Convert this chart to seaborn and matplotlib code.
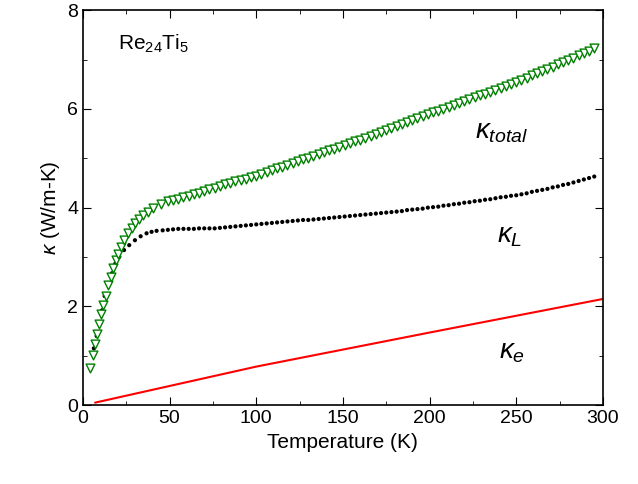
import matplotlib
matplotlib.use("Agg")
import matplotlib.pyplot as plt
import seaborn as sns
import pandas as pd

# total thermal conductivity (W/m-K), low-T part read point by point
t_tot_low = [4.0, 5.6, 6.9, 7.9, 9.2, 10.2, 11.7, 13.1, 14.6, 16.0, 17.5, 19.0, 20.4,
             21.9, 23.8, 25.8, 28.1, 30.0, 32.5, 34.8, 37.7, 40.4, 45, 49]
k_tot_low = [0.75, 1.01, 1.23, 1.45, 1.64, 1.84, 2.02, 2.22, 2.43, 2.6, 2.77, 2.94, 3.07,
             3.2, 3.34, 3.48, 3.58, 3.69, 3.77, 3.85, 3.91, 3.99, 4.07, 4.13]
# lattice part, low T
t_lat_low = [4.4, 6.3, 7.9, 9.4, 11.0, 12.5, 14.8, 16.7, 18.6, 20.9, 23.7, 26.7, 30.0,
             33.3, 36.7, 39.6, 42.5, 46, 49]
k_lat_low = [0.73, 1.15, 1.4, 1.65, 1.92, 2.21, 2.46, 2.67, 2.86, 3.0, 3.14, 3.24, 3.34,
             3.42, 3.48, 3.51, 3.53, 3.54, 3.55]

# higher temperatures, same T for both series
t_high = list(range(52, 296, 3))
k_tot_high = [4.15, 4.18, 4.21, 4.24, 4.27, 4.3, 4.33, 4.37, 4.4, 4.44, 4.47, 4.5, 4.53,
              4.56, 4.59, 4.62, 4.65, 4.69, 4.72, 4.76, 4.8, 4.83, 4.87, 4.9, 4.94, 4.98,
              5.01, 5.05, 5.09, 5.12, 5.16, 5.19, 5.23, 5.26, 5.3, 5.34, 5.38, 5.42, 5.46,
              5.5, 5.54, 5.57, 5.61, 5.65, 5.69, 5.73, 5.77, 5.81, 5.85, 5.89, 5.93, 5.96,
              6.0, 6.04, 6.08, 6.12, 6.16, 6.2, 6.24, 6.28, 6.31, 6.35, 6.39, 6.43, 6.47,
              6.51, 6.55, 6.59, 6.63, 6.68, 6.72, 6.76, 6.81, 6.85, 6.9, 6.94, 6.99, 7.04,
              7.09, 7.14, 7.18, 7.23]
k_lat_high = [3.56, 3.57, 3.57, 3.57, 3.57, 3.58, 3.58, 3.58, 3.58, 3.59, 3.6, 3.61, 3.62,
              3.63, 3.64, 3.65, 3.66, 3.67, 3.68, 3.69, 3.7, 3.71, 3.72, 3.73, 3.74, 3.75,
              3.75, 3.76, 3.77, 3.78, 3.79, 3.8, 3.81, 3.82, 3.83, 3.84, 3.85, 3.86, 3.87,
              3.88, 3.89, 3.9, 3.91, 3.92, 3.93, 3.95, 3.96, 3.97, 3.98, 4.0, 4.01, 4.02,
              4.04, 4.05, 4.07, 4.08, 4.1, 4.11, 4.13, 4.14, 4.16, 4.17, 4.19, 4.21, 4.22,
              4.24, 4.25, 4.27, 4.29, 4.32, 4.34, 4.36, 4.38, 4.41, 4.43, 4.46, 4.48, 4.51,
              4.54, 4.57, 4.6, 4.63]
# electronic part
temp_e = [7, 100, 200, 300]
k_e = [0.05, 0.78, 1.47, 2.15]

tot = pd.DataFrame({"T": t_tot_low + t_high, "k": k_tot_low + k_tot_high})
lat = pd.DataFrame({"T": t_lat_low + t_high, "k": k_lat_low + k_lat_high})
ele = pd.DataFrame({"T": temp_e, "k": k_e})

sns.set_style("ticks")
plt.rcParams["font.family"] = ["Liberation Sans", "DejaVu Sans"]
plt.rcParams["mathtext.fontset"] = "custom"
plt.rcParams["mathtext.rm"] = "Liberation Sans"
plt.rcParams["mathtext.it"] = "Liberation Sans:italic"
for k in ["text.color", "axes.labelcolor", "xtick.color", "ytick.color", "axes.edgecolor"]:
    plt.rcParams[k] = "black"

fig = plt.figure(figsize=(6.38, 4.84), dpi=100)
ax = fig.add_axes([0.13, 0.163, 0.815, 0.816])

sns.lineplot(data=ele, x="T", y="k", color="red", lw=1.5, ax=ax)
sns.scatterplot(data=lat, x="T", y="k", color="black", s=9, edgecolor="none", ax=ax, zorder=3)
sns.scatterplot(data=tot, x="T", y="k", marker="v", s=40, facecolor="white",
                edgecolor="green", linewidth=1, ax=ax, zorder=4)

ax.set_xlim(0, 300)
ax.set_ylim(0, 8)
ax.set_xticks([0, 50, 100, 150, 200, 250, 300])
ax.set_yticks([0, 2, 4, 6, 8])
ax.set_xticks(range(25, 300, 50), minor=True)
ax.set_yticks([1, 3, 5, 7], minor=True)
ax.tick_params(direction="in", which="both", top=True, right=True, labelsize=14)
ax.tick_params(which="major", length=6)
ax.tick_params(which="minor", length=3)
for s in ax.spines.values():
    s.set_linewidth(1.2)
ax.set_xlabel("Temperature (K)", fontsize=15)
ax.set_ylabel(r"$\kappa$ (W/m-K)", fontsize=15)

ax.text(20, 7.2, r"Re$_{24}$Ti$_5$", fontsize=15)
ax.text(226, 5.4, r"$\kappa_{total}$", fontsize=20)
ax.text(239, 3.3, r"$\kappa_{L}$", fontsize=20)
ax.text(240, 0.95, r"$\kappa_{e}$", fontsize=20)

fig.savefig("out.png", dpi=100)
